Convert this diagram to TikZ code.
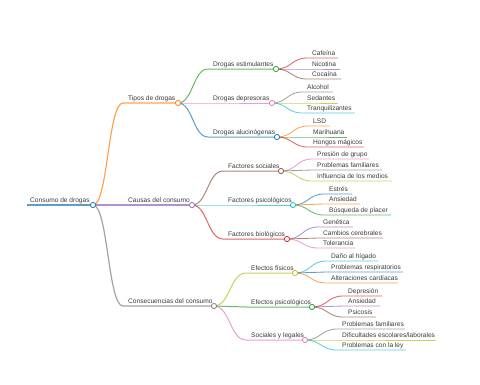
\documentclass[tikz,border=0pt]{standalone}
\usepackage{fontspec}
\setmainfont{Liberation Sans}
\usetikzlibrary{calc}
\definecolor{cA}{HTML}{1F77B4}
\definecolor{cB}{HTML}{FF7F0E}
\definecolor{cC}{HTML}{2CA02C}
\definecolor{cD}{HTML}{D62728}
\definecolor{cE}{HTML}{9467BD}
\definecolor{cF}{HTML}{8C564B}
\definecolor{cG}{HTML}{E377C2}
\definecolor{cH}{HTML}{7F7F7F}
\definecolor{cI}{HTML}{BCBD22}
\definecolor{cJ}{HTML}{17BECF}
\definecolor{txt}{HTML}{3A3A3A}
\tikzset{
  lbl/.style={anchor=base west, inner sep=0pt, text=txt, font=\fontsize{6.6}{8}\selectfont},
  knob/.style={circle, draw, fill=white, line width=0.8pt, inner sep=0pt, minimum size=5.2pt},
  link/.style={draw opacity=0.72},
}
\newcommand\mmnode[8]{%
  \coordinate (#1-s) at ({#3-5},#4);
  \coordinate (#1-e) at (#5,#4);
  \node[lbl] (#1) at (#3,{#4-2.3}) {#8};
  \draw[link, #6, line width=#7] let \p1=(#2-e), \p2=(#1-s) in
    (\p1) .. controls ({(\x1+\x2)/2},\y1) and ({(\x1+\x2)/2},\y2) .. (\p2) -- (#1-e);
}
\newcommand\mmknob[2]{\node[knob, draw=#2] (#1-k) at (#1-e) {};}
\begin{document}
\begin{tikzpicture}[x=1pt,y=-1pt]
\useasboundingbox (0,0) rectangle (480,384);
% root
\coordinate (root-s) at (27,205);
\coordinate (root-e) at (93,205);
\node[lbl] (root) at (30,202.7) {Consumo de drogas};
\draw[link, cA, line width=1.8pt] (root-s) -- (root-e);
% level 1
\mmnode{tipos}{root}{128}{103}{178}{cB}{1.2pt}{Tipos de drogas}
\mmnode{causas}{root}{128}{205}{192}{cE}{1.2pt}{Causas del consumo}
\mmnode{conse}{root}{128}{306}{214}{cH}{1.2pt}{Consecuencias del consumo}
% level 2 tipos
\mmnode{estim}{tipos}{213}{69}{276}{cC}{1pt}{Drogas estimulantes}
\mmnode{depre}{tipos}{213}{103}{272}{cG}{1pt}{Drogas depresoras}
\mmnode{aluc}{tipos}{213}{137}{277}{cA}{1pt}{Drogas alucinógenas}
\mmnode{cafe}{estim}{312}{58}{338}{cD}{0.85pt}{Cafeína}
\mmnode{nico}{estim}{312}{69}{340}{cE}{0.85pt}{Nicotina}
\mmnode{coca}{estim}{312}{79}{341}{cF}{0.85pt}{Cocaína}
\mmnode{alco}{depre}{307}{92}{333}{cH}{0.85pt}{Alcohol}
\mmnode{seda}{depre}{307}{103}{338}{cI}{0.85pt}{Sedantes}
\mmnode{tranq}{depre}{307}{113}{355}{cJ}{0.85pt}{Tranquilizantes}
\mmnode{lsd}{aluc}{313}{126}{330}{cB}{0.85pt}{LSD}
\mmnode{mari}{aluc}{313}{137}{347}{cC}{0.85pt}{Marihuana}
\mmnode{hongos}{aluc}{313}{147}{364}{cD}{0.85pt}{Hongos mágicos}
% level 2 causas
\mmnode{fsoc}{causas}{228}{171}{281}{cF}{1pt}{Factores sociales}
\mmnode{fpsi}{causas}{228}{205}{293}{cJ}{1pt}{Factores psicológicos}
\mmnode{fbio}{causas}{228}{239}{287}{cD}{1pt}{Factores biológicos}
\mmnode{presion}{fsoc}{317}{159}{369}{cG}{0.85pt}{Presión de grupo}
\mmnode{probfam}{fsoc}{317}{170}{382}{cH}{0.85pt}{Problemas familiares}
\mmnode{influ}{fsoc}{317}{181}{392}{cI}{0.85pt}{Influencia de los medios}
\mmnode{estres}{fpsi}{329}{194}{352}{cA}{0.85pt}{Estrés}
\mmnode{ansie}{fpsi}{329}{204}{360}{cB}{0.85pt}{Ansiedad}
\mmnode{busq}{fpsi}{329}{215}{391}{cC}{0.85pt}{Búsqueda de placer}
\mmnode{gene}{fbio}{323}{227}{353}{cE}{0.85pt}{Genética}
\mmnode{cambios}{fbio}{323}{238}{383}{cF}{0.85pt}{Cambios cerebrales}
\mmnode{toler}{fbio}{323}{248}{355}{cG}{0.85pt}{Tolerancia}
% level 2 consecuencias
\mmnode{efis}{conse}{251}{273}{295}{cI}{1pt}{Efectos físicos}
\mmnode{epsi}{conse}{251}{307}{312}{cC}{1pt}{Efectos psicológicos}
\mmnode{socleg}{conse}{251}{340}{305}{cG}{1pt}{Sociales y legales}
\mmnode{danio}{efis}{331}{261}{378}{cJ}{0.85pt}{Daño al hígado}
\mmnode{resp}{efis}{331}{272}{403}{cA}{0.85pt}{Problemas respiratorios}
\mmnode{alter}{efis}{331}{283}{398}{cB}{0.85pt}{Alteraciones cardíacas}
\mmnode{depres}{epsi}{348}{296}{382}{cD}{0.85pt}{Depresión}
\mmnode{ansie2}{epsi}{348}{306}{380}{cE}{0.85pt}{Ansiedad}
\mmnode{psico}{epsi}{348}{317}{376}{cF}{0.85pt}{Psicosis}
\mmnode{pfam2}{socleg}{342}{329}{405}{cH}{0.85pt}{Problemas familiares}
\mmnode{dific}{socleg}{342}{340}{436}{cI}{0.85pt}{Dificultades escolares/laborales}
\mmnode{ley}{socleg}{342}{350}{406}{cJ}{0.85pt}{Problemas con la ley}
% knobs
\mmknob{root}{cA}
\mmknob{tipos}{cB}
\mmknob{causas}{cE}
\mmknob{conse}{cH}
\mmknob{estim}{cC}
\mmknob{depre}{cG}
\mmknob{aluc}{cA}
\mmknob{fsoc}{cF}
\mmknob{fpsi}{cJ}
\mmknob{fbio}{cD}
\mmknob{efis}{cI}
\mmknob{epsi}{cC}
\mmknob{socleg}{cG}
\end{tikzpicture}
\end{document}
